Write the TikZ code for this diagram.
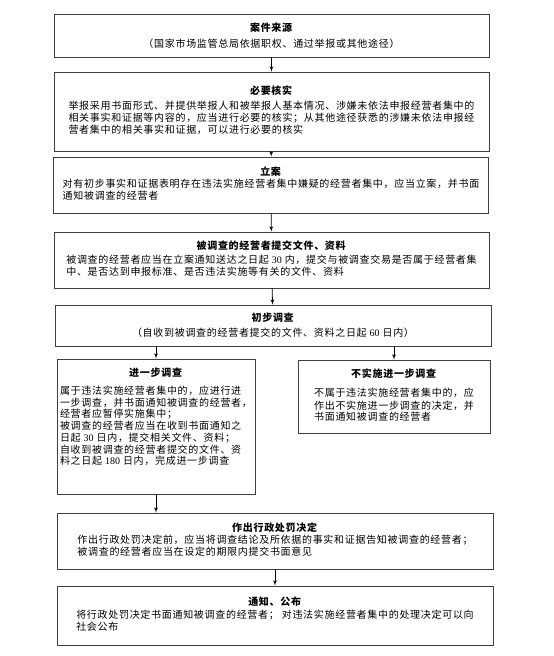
\documentclass[tikz,border=0pt]{standalone}
\usepackage{fontspec}
\setmainfont{Liberation Serif}
\newfontfamily\cjk[LetterSpace=7]{Noto Sans CJK SC}
\usepackage{tikz}
\usetikzlibrary{arrows,shadows}
\tikzset{edge/.style = {->,> = latex'}}
\newcommand{\lines}[1]{\begin{tabular}[t]{@{}l@{}}#1\end{tabular}}
\newcommand{\nr}[1]{{\rmfamily #1}}

\begin{document}
\begin{tikzpicture}[x=1pt,y=-1pt,thick,
    main box/.style={draw=gray!50!black,line width=0.7pt,fill=white,align=center,inner sep=0pt,
      drop shadow={shadow xshift=0.9pt,shadow yshift=-0.9pt,fill=gray!35,opacity=1},
      font=\cjk\fontsize{10}{11.8}\selectfont},
    wide box/.style={main box,minimum width=435pt}]
    \useasboundingbox (0,0) rectangle (554,656);

    \node[wide box,minimum height=43pt] (src) at (271.5,35.5)
        {\textbf{案件来源}\\[4pt]（国家市场监管总局依据职权、通过举报或其他途径）};
    \node[wide box,minimum height=79pt] (chk) at (271.5,111.5)
        {\textbf{必要核实}\\[3pt]\lines{举报采用书面形式、并提供举报人和被举报人基本情况、涉嫌未依法申报经营者集中的\\
        相关事实和证据等内容的，应当进行必要的核实；从其他途径获悉的涉嫌未依法申报经\\
        营者集中的相关事实和证据，可以进行必要的核实}};
    \node[wide box,minimum height=56pt] (reg) at (271,185)
        {\textbf{立案}\\[1pt]\lines{对有初步事实和证据表明存在违法实施经营者集中嫌疑的经营者集中，应当立案，并书面\\
        通知被调查的经营者}};
    \node[wide box,minimum height=56pt] (sub) at (271.5,260)
        {\textbf{被调查的经营者提交文件、资料}\\[2pt]\lines{被调查的经营者应当在立案通知送达之日起 \nr{30} 内，提交与被调查交易是否属于经营者集\\
        中、是否达到申报标准、是否违法实施等有关的文件、资料}};
    \node[wide box,minimum width=436pt,minimum height=41pt] (pre) at (273,325.5)
        {\textbf{初步调查}\\[3pt]（自收到被调查的经营者提交的文件、资料之日起 \nr{60} 日内）};

    \node[main box,minimum width=198pt,minimum height=135pt,
          font=\cjk\fontsize{10}{11}\selectfont] (adv) at (156,426.5)
        {\textbf{进一步调查}\\[7pt]\lines{属于违法实施经营者集中的，应进行进\\
        一步调查，并书面通知被调查的经营者，\\
        经营者应暂停实施集中；\\
        被调查的经营者应当在收到书面通知之\\
        日起 \nr{30} 日内，提交相关文件、资料；\\
        自收到被调查的经营者提交的文件、资\\
        料之日起 \nr{180} 日内，完成进一步调查}\\[16pt]};
    \node[main box,minimum width=192pt,minimum height=73pt] (non) at (394,396.5)
        {\textbf{不实施进一步调查}\\[8pt]\lines{不属于违法实施经营者集中的，应\\
        作出不实施进一步调查的决定，并\\
        书面通知被调查的经营者}};

    \node[wide box,minimum width=436pt,minimum height=56pt] (pen) at (275,541)
        {\textbf{作出行政处罚决定}\\[1pt]\lines{作出行政处罚决定前，应当将调查结论及所依据的事实和证据告知被调查的经营者；\\
        被调查的经营者应当在设定的期限内提交书面意见}};
    \node[wide box,minimum width=436pt,minimum height=59pt] (pub) at (275,615.5)
        {\textbf{通知、公布}\\[2pt]\lines{将行政处罚决定书面通知被调查的经营者； 对违法实施经营者集中的处理决定可以向\\
        社会公布}};

    \path[edge,line width=0.8pt] (src) edge (chk);
    \path[edge,line width=0.8pt] (chk) edge (reg);
    \path[edge,line width=0.8pt] (reg) edge (sub);
    \path[edge,line width=0.8pt] (sub) edge (pre);
    \path[edge,line width=0.8pt] (pre.south -| adv.north) edge (adv.north);
    \path[edge,line width=0.8pt] (pre.south -| non.north) edge (non.north);
    \path[edge,line width=0.8pt] (adv.south) edge (adv.south |- pen.north);
    \path[edge,line width=0.8pt] (pen) edge (pub);

\end{tikzpicture}
\end{document}
